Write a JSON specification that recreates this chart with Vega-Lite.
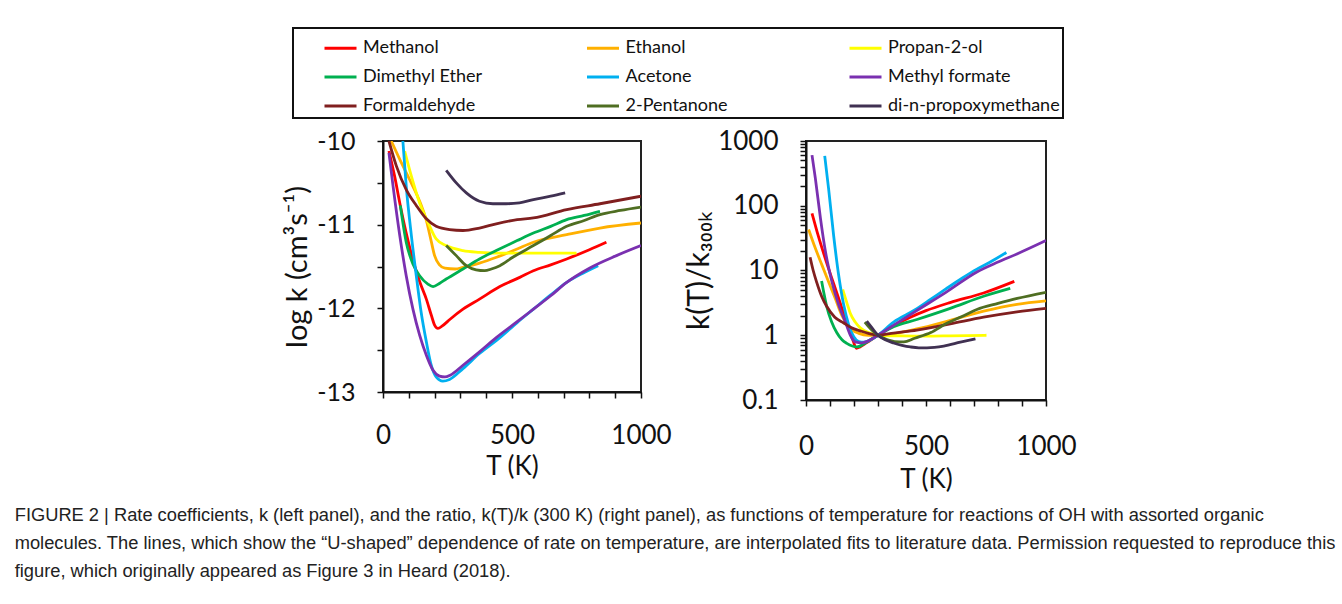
{
  "$schema": "https://vega.github.io/schema/vega-lite/v6.json",
  "padding": {"left": 14, "top": 27, "right": 0, "bottom": 4},
  "background": "white",
  "align": "none",
  "config": {
    "font": "Lato",
    "view": {"stroke": "#222", "strokeWidth": 2},
    "legend": {"strokeWidth": 2, "strokeColor": "#111"},
    "axis": {"grid": false, "domainColor": "#111", "domainWidth": 2, "tickColor": "#111", "tickWidth": 1.5, "labelColor": "#111", "titleColor": "#111", "labelFont": "Lato", "titleFont": "Lato", "titleFontWeight": "normal", "labelOverlap": false, "labelFlush": false}
  },
  "title": {
    "text": [
      "FIGURE 2 | Rate coefficients, k (left panel), and the ratio, k(T)/k (300 K) (right panel), as functions of temperature for reactions of OH with assorted organic",
      "molecules. The lines, which show the “U-shaped” dependence of rate on temperature, are interpolated fits to literature data. Permission requested to reproduce this",
      "figure, which originally appeared as Figure 3 in Heard (2018)."
    ],
    "orient": "bottom", "anchor": "start", "dx": -268, "offset": 14,
    "font": "Liberation Sans", "fontSize": 18.3, "fontWeight": "normal", "lineHeight": 28, "color": "#222"
  },
  "datasets": {
    "kdata": [
      {"species": "Methanol", "T": 23, "logk": -10.12}, {"species": "Methanol", "T": 45, "logk": -10.42}, {"species": "Methanol", "T": 65, "logk": -10.74}, {"species": "Methanol", "T": 90, "logk": -11.1}, {"species": "Methanol", "T": 116, "logk": -11.42}, {"species": "Methanol", "T": 142, "logk": -11.68}, {"species": "Methanol", "T": 168, "logk": -11.89}, {"species": "Methanol", "T": 187, "logk": -12.08}, {"species": "Methanol", "T": 200, "logk": -12.2}, {"species": "Methanol", "T": 213, "logk": -12.24}, {"species": "Methanol", "T": 230, "logk": -12.21}, {"species": "Methanol", "T": 260, "logk": -12.13}, {"species": "Methanol", "T": 310, "logk": -12.01}, {"species": "Methanol", "T": 374, "logk": -11.89}, {"species": "Methanol", "T": 453, "logk": -11.74}, {"species": "Methanol", "T": 530, "logk": -11.63}, {"species": "Methanol", "T": 583, "logk": -11.55}, {"species": "Methanol", "T": 650, "logk": -11.48}, {"species": "Methanol", "T": 712, "logk": -11.41}, {"species": "Methanol", "T": 800, "logk": -11.3}, {"species": "Methanol", "T": 866, "logk": -11.21},
      {"species": "Ethanol", "T": 32, "logk": -10.0}, {"species": "Ethanol", "T": 65, "logk": -10.22}, {"species": "Ethanol", "T": 103, "logk": -10.46}, {"species": "Ethanol", "T": 142, "logk": -10.72}, {"species": "Ethanol", "T": 168, "logk": -10.95}, {"species": "Ethanol", "T": 187, "logk": -11.2}, {"species": "Ethanol", "T": 200, "logk": -11.37}, {"species": "Ethanol", "T": 219, "logk": -11.48}, {"species": "Ethanol", "T": 240, "logk": -11.52}, {"species": "Ethanol", "T": 280, "logk": -11.53}, {"species": "Ethanol", "T": 310, "logk": -11.51}, {"species": "Ethanol", "T": 374, "logk": -11.46}, {"species": "Ethanol", "T": 440, "logk": -11.39}, {"species": "Ethanol", "T": 520, "logk": -11.29}, {"species": "Ethanol", "T": 583, "logk": -11.21}, {"species": "Ethanol", "T": 712, "logk": -11.12}, {"species": "Ethanol", "T": 841, "logk": -11.04}, {"species": "Ethanol", "T": 1000, "logk": -10.98},
      {"species": "Propan-2-ol", "T": 84, "logk": -10.12}, {"species": "Propan-2-ol", "T": 110, "logk": -10.42}, {"species": "Propan-2-ol", "T": 142, "logk": -10.74}, {"species": "Propan-2-ol", "T": 174, "logk": -10.97}, {"species": "Propan-2-ol", "T": 206, "logk": -11.17}, {"species": "Propan-2-ol", "T": 245, "logk": -11.25}, {"species": "Propan-2-ol", "T": 310, "logk": -11.31}, {"species": "Propan-2-ol", "T": 374, "logk": -11.33}, {"species": "Propan-2-ol", "T": 439, "logk": -11.34}, {"species": "Propan-2-ol", "T": 600, "logk": -11.34}, {"species": "Propan-2-ol", "T": 750, "logk": -11.34},
      {"species": "Dimethyl Ether", "T": 67, "logk": -10.77}, {"species": "Dimethyl Ether", "T": 90, "logk": -11.21}, {"species": "Dimethyl Ether", "T": 116, "logk": -11.47}, {"species": "Dimethyl Ether", "T": 142, "logk": -11.61}, {"species": "Dimethyl Ether", "T": 174, "logk": -11.71}, {"species": "Dimethyl Ether", "T": 194, "logk": -11.74}, {"species": "Dimethyl Ether", "T": 220, "logk": -11.7}, {"species": "Dimethyl Ether", "T": 245, "logk": -11.65}, {"species": "Dimethyl Ether", "T": 310, "logk": -11.53}, {"species": "Dimethyl Ether", "T": 374, "logk": -11.41}, {"species": "Dimethyl Ether", "T": 439, "logk": -11.31}, {"species": "Dimethyl Ether", "T": 520, "logk": -11.19}, {"species": "Dimethyl Ether", "T": 583, "logk": -11.1}, {"species": "Dimethyl Ether", "T": 650, "logk": -11.02}, {"species": "Dimethyl Ether", "T": 712, "logk": -10.94}, {"species": "Dimethyl Ether", "T": 780, "logk": -10.89}, {"species": "Dimethyl Ether", "T": 841, "logk": -10.84},
      {"species": "Acetone", "T": 77, "logk": -10.0}, {"species": "Acetone", "T": 90, "logk": -10.54}, {"species": "Acetone", "T": 110, "logk": -11.13}, {"species": "Acetone", "T": 129, "logk": -11.61}, {"species": "Acetone", "T": 148, "logk": -12.05}, {"species": "Acetone", "T": 168, "logk": -12.4}, {"species": "Acetone", "T": 187, "logk": -12.68}, {"species": "Acetone", "T": 206, "logk": -12.82}, {"species": "Acetone", "T": 232, "logk": -12.87}, {"species": "Acetone", "T": 258, "logk": -12.85}, {"species": "Acetone", "T": 310, "logk": -12.72}, {"species": "Acetone", "T": 374, "logk": -12.54}, {"species": "Acetone", "T": 453, "logk": -12.35}, {"species": "Acetone", "T": 520, "logk": -12.17}, {"species": "Acetone", "T": 583, "logk": -12.01}, {"species": "Acetone", "T": 650, "logk": -11.84}, {"species": "Acetone", "T": 712, "logk": -11.69}, {"species": "Acetone", "T": 775, "logk": -11.58}, {"species": "Acetone", "T": 834, "logk": -11.49},
      {"species": "Methyl formate", "T": 23, "logk": -10.14}, {"species": "Methyl formate", "T": 39, "logk": -10.54}, {"species": "Methyl formate", "T": 65, "logk": -11.13}, {"species": "Methyl formate", "T": 90, "logk": -11.61}, {"species": "Methyl formate", "T": 116, "logk": -12.01}, {"species": "Methyl formate", "T": 142, "logk": -12.32}, {"species": "Methyl formate", "T": 168, "logk": -12.56}, {"species": "Methyl formate", "T": 194, "logk": -12.74}, {"species": "Methyl formate", "T": 219, "logk": -12.81}, {"species": "Methyl formate", "T": 240, "logk": -12.82}, {"species": "Methyl formate", "T": 260, "logk": -12.8}, {"species": "Methyl formate", "T": 310, "logk": -12.68}, {"species": "Methyl formate", "T": 374, "logk": -12.52}, {"species": "Methyl formate", "T": 439, "logk": -12.35}, {"species": "Methyl formate", "T": 520, "logk": -12.16}, {"species": "Methyl formate", "T": 583, "logk": -12.01}, {"species": "Methyl formate", "T": 650, "logk": -11.85}, {"species": "Methyl formate", "T": 712, "logk": -11.69}, {"species": "Methyl formate", "T": 800, "logk": -11.52}, {"species": "Methyl formate", "T": 905, "logk": -11.37}, {"species": "Methyl formate", "T": 1000, "logk": -11.25},
      {"species": "Formaldehyde", "T": 23, "logk": -10.0}, {"species": "Formaldehyde", "T": 52, "logk": -10.3}, {"species": "Formaldehyde", "T": 90, "logk": -10.58}, {"species": "Formaldehyde", "T": 129, "logk": -10.77}, {"species": "Formaldehyde", "T": 168, "logk": -10.93}, {"species": "Formaldehyde", "T": 206, "logk": -11.02}, {"species": "Formaldehyde", "T": 258, "logk": -11.06}, {"species": "Formaldehyde", "T": 310, "logk": -11.07}, {"species": "Formaldehyde", "T": 374, "logk": -11.04}, {"species": "Formaldehyde", "T": 439, "logk": -10.99}, {"species": "Formaldehyde", "T": 520, "logk": -10.94}, {"species": "Formaldehyde", "T": 583, "logk": -10.92}, {"species": "Formaldehyde", "T": 712, "logk": -10.82}, {"species": "Formaldehyde", "T": 841, "logk": -10.75}, {"species": "Formaldehyde", "T": 1000, "logk": -10.66},
      {"species": "2-Pentanone", "T": 245, "logk": -11.25}, {"species": "2-Pentanone", "T": 284, "logk": -11.37}, {"species": "2-Pentanone", "T": 323, "logk": -11.49}, {"species": "2-Pentanone", "T": 361, "logk": -11.54}, {"species": "2-Pentanone", "T": 394, "logk": -11.55}, {"species": "2-Pentanone", "T": 420, "logk": -11.53}, {"species": "2-Pentanone", "T": 453, "logk": -11.49}, {"species": "2-Pentanone", "T": 503, "logk": -11.39}, {"species": "2-Pentanone", "T": 583, "logk": -11.25}, {"species": "2-Pentanone", "T": 650, "logk": -11.13}, {"species": "2-Pentanone", "T": 712, "logk": -11.02}, {"species": "2-Pentanone", "T": 780, "logk": -10.95}, {"species": "2-Pentanone", "T": 841, "logk": -10.88}, {"species": "2-Pentanone", "T": 920, "logk": -10.83}, {"species": "2-Pentanone", "T": 1000, "logk": -10.79},
      {"species": "di-n-propoxymethane", "T": 245, "logk": -10.35}, {"species": "di-n-propoxymethane", "T": 284, "logk": -10.5}, {"species": "di-n-propoxymethane", "T": 323, "logk": -10.62}, {"species": "di-n-propoxymethane", "T": 374, "logk": -10.72}, {"species": "di-n-propoxymethane", "T": 426, "logk": -10.75}, {"species": "di-n-propoxymethane", "T": 477, "logk": -10.75}, {"species": "di-n-propoxymethane", "T": 529, "logk": -10.74}, {"species": "di-n-propoxymethane", "T": 583, "logk": -10.7}, {"species": "di-n-propoxymethane", "T": 650, "logk": -10.66}, {"species": "di-n-propoxymethane", "T": 706, "logk": -10.62}
    ],
    "rdata": [
      {"species": "Methanol", "T": 25, "r": 76}, {"species": "Methanol", "T": 46, "r": 40}, {"species": "Methanol", "T": 67, "r": 22}, {"species": "Methanol", "T": 94, "r": 10.7}, {"species": "Methanol", "T": 122, "r": 5.3}, {"species": "Methanol", "T": 150, "r": 2.6}, {"species": "Methanol", "T": 178, "r": 1.3}, {"species": "Methanol", "T": 195, "r": 0.85}, {"species": "Methanol", "T": 210, "r": 0.63}, {"species": "Methanol", "T": 225, "r": 0.66}, {"species": "Methanol", "T": 253, "r": 0.77}, {"species": "Methanol", "T": 300, "r": 1.0}, {"species": "Methanol", "T": 365, "r": 1.4}, {"species": "Methanol", "T": 435, "r": 1.9}, {"species": "Methanol", "T": 500, "r": 2.4}, {"species": "Methanol", "T": 600, "r": 3.2}, {"species": "Methanol", "T": 740, "r": 4.5}, {"species": "Methanol", "T": 868, "r": 6.8},
      {"species": "Ethanol", "T": 11, "r": 43}, {"species": "Ethanol", "T": 39, "r": 22}, {"species": "Ethanol", "T": 67, "r": 12}, {"species": "Ethanol", "T": 94, "r": 6.7}, {"species": "Ethanol", "T": 122, "r": 3.7}, {"species": "Ethanol", "T": 150, "r": 2.0}, {"species": "Ethanol", "T": 178, "r": 1.35}, {"species": "Ethanol", "T": 220, "r": 1.07}, {"species": "Ethanol", "T": 260, "r": 1.0}, {"species": "Ethanol", "T": 300, "r": 1.0}, {"species": "Ethanol", "T": 374, "r": 1.07}, {"species": "Ethanol", "T": 462, "r": 1.25}, {"species": "Ethanol", "T": 601, "r": 1.7}, {"species": "Ethanol", "T": 740, "r": 2.35}, {"species": "Ethanol", "T": 879, "r": 3.0}, {"species": "Ethanol", "T": 1000, "r": 3.4},
      {"species": "Propan-2-ol", "T": 153, "r": 5.1}, {"species": "Propan-2-ol", "T": 170, "r": 3.2}, {"species": "Propan-2-ol", "T": 184, "r": 2.2}, {"species": "Propan-2-ol", "T": 205, "r": 1.6}, {"species": "Propan-2-ol", "T": 226, "r": 1.3}, {"species": "Propan-2-ol", "T": 260, "r": 1.1}, {"species": "Propan-2-ol", "T": 300, "r": 1.0}, {"species": "Propan-2-ol", "T": 400, "r": 0.98}, {"species": "Propan-2-ol", "T": 500, "r": 0.97}, {"species": "Propan-2-ol", "T": 600, "r": 0.98}, {"species": "Propan-2-ol", "T": 752, "r": 1.0},
      {"species": "Dimethyl Ether", "T": 65, "r": 6.9}, {"species": "Dimethyl Ether", "T": 76, "r": 4.2}, {"species": "Dimethyl Ether", "T": 86, "r": 2.8}, {"species": "Dimethyl Ether", "T": 107, "r": 1.6}, {"species": "Dimethyl Ether", "T": 128, "r": 1.1}, {"species": "Dimethyl Ether", "T": 150, "r": 0.85}, {"species": "Dimethyl Ether", "T": 170, "r": 0.75}, {"species": "Dimethyl Ether", "T": 212, "r": 0.66}, {"species": "Dimethyl Ether", "T": 240, "r": 0.73}, {"species": "Dimethyl Ether", "T": 270, "r": 0.86}, {"species": "Dimethyl Ether", "T": 300, "r": 1.0}, {"species": "Dimethyl Ether", "T": 365, "r": 1.35}, {"species": "Dimethyl Ether", "T": 462, "r": 1.75}, {"species": "Dimethyl Ether", "T": 601, "r": 2.6}, {"species": "Dimethyl Ether", "T": 740, "r": 4.0}, {"species": "Dimethyl Ether", "T": 851, "r": 5.3},
      {"species": "Acetone", "T": 78, "r": 590}, {"species": "Acetone", "T": 94, "r": 186}, {"species": "Acetone", "T": 115, "r": 35}, {"species": "Acetone", "T": 136, "r": 8.5}, {"species": "Acetone", "T": 157, "r": 2.95}, {"species": "Acetone", "T": 178, "r": 1.45}, {"species": "Acetone", "T": 199, "r": 0.95}, {"species": "Acetone", "T": 220, "r": 0.8}, {"species": "Acetone", "T": 240, "r": 0.78}, {"species": "Acetone", "T": 270, "r": 0.85}, {"species": "Acetone", "T": 300, "r": 1.0}, {"species": "Acetone", "T": 365, "r": 1.6}, {"species": "Acetone", "T": 453, "r": 2.45}, {"species": "Acetone", "T": 520, "r": 3.6}, {"species": "Acetone", "T": 583, "r": 5.2}, {"species": "Acetone", "T": 650, "r": 7.6}, {"species": "Acetone", "T": 712, "r": 10.5}, {"species": "Acetone", "T": 775, "r": 14}, {"species": "Acetone", "T": 835, "r": 19},
      {"species": "Methyl formate", "T": 25, "r": 605}, {"species": "Methyl formate", "T": 39, "r": 265}, {"species": "Methyl formate", "T": 60, "r": 65}, {"species": "Methyl formate", "T": 81, "r": 19.6}, {"species": "Methyl formate", "T": 108, "r": 6.7}, {"species": "Methyl formate", "T": 136, "r": 2.95}, {"species": "Methyl formate", "T": 164, "r": 1.6}, {"species": "Methyl formate", "T": 185, "r": 1.0}, {"species": "Methyl formate", "T": 205, "r": 0.79}, {"species": "Methyl formate", "T": 233, "r": 0.76}, {"species": "Methyl formate", "T": 260, "r": 0.82}, {"species": "Methyl formate", "T": 300, "r": 1.0}, {"species": "Methyl formate", "T": 374, "r": 1.5}, {"species": "Methyl formate", "T": 453, "r": 2.3}, {"species": "Methyl formate", "T": 583, "r": 4.6}, {"species": "Methyl formate", "T": 712, "r": 9.5}, {"species": "Methyl formate", "T": 800, "r": 13.5}, {"species": "Methyl formate", "T": 879, "r": 18}, {"species": "Methyl formate", "T": 1000, "r": 29},
      {"species": "Formaldehyde", "T": 17, "r": 16}, {"species": "Formaldehyde", "T": 30, "r": 10}, {"species": "Formaldehyde", "T": 45, "r": 6.5}, {"species": "Formaldehyde", "T": 65, "r": 4.0}, {"species": "Formaldehyde", "T": 86, "r": 2.8}, {"species": "Formaldehyde", "T": 120, "r": 1.9}, {"species": "Formaldehyde", "T": 156, "r": 1.56}, {"species": "Formaldehyde", "T": 190, "r": 1.3}, {"species": "Formaldehyde", "T": 226, "r": 1.17}, {"species": "Formaldehyde", "T": 260, "r": 1.07}, {"species": "Formaldehyde", "T": 300, "r": 1.0}, {"species": "Formaldehyde", "T": 365, "r": 1.08}, {"species": "Formaldehyde", "T": 462, "r": 1.2}, {"species": "Formaldehyde", "T": 601, "r": 1.5}, {"species": "Formaldehyde", "T": 740, "r": 1.9}, {"species": "Formaldehyde", "T": 879, "r": 2.3}, {"species": "Formaldehyde", "T": 1000, "r": 2.6},
      {"species": "2-Pentanone", "T": 245, "r": 1.6}, {"species": "2-Pentanone", "T": 270, "r": 1.25}, {"species": "2-Pentanone", "T": 300, "r": 1.0}, {"species": "2-Pentanone", "T": 340, "r": 0.85}, {"species": "2-Pentanone", "T": 370, "r": 0.8}, {"species": "2-Pentanone", "T": 407, "r": 0.79}, {"species": "2-Pentanone", "T": 453, "r": 0.9}, {"species": "2-Pentanone", "T": 520, "r": 1.1}, {"species": "2-Pentanone", "T": 583, "r": 1.5}, {"species": "2-Pentanone", "T": 650, "r": 1.95}, {"species": "2-Pentanone", "T": 712, "r": 2.5}, {"species": "2-Pentanone", "T": 800, "r": 3.1}, {"species": "2-Pentanone", "T": 880, "r": 3.7}, {"species": "2-Pentanone", "T": 1000, "r": 4.6},
      {"species": "di-n-propoxymethane", "T": 253, "r": 1.65}, {"species": "di-n-propoxymethane", "T": 275, "r": 1.3}, {"species": "di-n-propoxymethane", "T": 300, "r": 1.0}, {"species": "di-n-propoxymethane", "T": 330, "r": 0.85}, {"species": "di-n-propoxymethane", "T": 365, "r": 0.76}, {"species": "di-n-propoxymethane", "T": 400, "r": 0.7}, {"species": "di-n-propoxymethane", "T": 435, "r": 0.66}, {"species": "di-n-propoxymethane", "T": 470, "r": 0.64}, {"species": "di-n-propoxymethane", "T": 504, "r": 0.64}, {"species": "di-n-propoxymethane", "T": 574, "r": 0.68}, {"species": "di-n-propoxymethane", "T": 643, "r": 0.78}, {"species": "di-n-propoxymethane", "T": 706, "r": 0.88}
    ]
  },
  "spacing": 10,
  "hconcat": [
    {
      "width": 258, "height": 251,
      "data": {"name": "kdata"},
      "mark": {"type": "line", "strokeWidth": 2.8, "clip": true, "interpolate": "monotone"},
      "encoding": {
        "x": {"field": "T", "type": "quantitative", "scale": {"domain": [0, 1000], "nice": false},
              "axis": {"values": [0, 100, 200, 300, 400, 500, 600, 700, 800, 900, 1000], "labelExpr": "datum.value % 500 == 0 ? '' + datum.value : ''", "labelFontSize": 26, "tickSize": 6, "labelPadding": 24, "title": "T (K)", "titleFontSize": 26, "titlePadding": 5}},
        "y": {"field": "logk", "type": "quantitative", "scale": {"domain": [-13, -10], "nice": false, "zero": false},
              "axis": {"values": [-13, -12.5, -12, -11.5, -11, -10.5, -10], "labelExpr": "datum.value % 1 == 0 ? '' + datum.value : ''", "labelFontSize": 25, "tickSize": 6, "labelPadding": 22, "title": "log k (cm³s⁻¹)", "titleFontSize": 29, "titlePadding": 4}},
        "color": {"field": "species", "type": "nominal",
                  "scale": {"domain": ["Methanol", "Ethanol", "Propan-2-ol", "Dimethyl Ether", "Acetone", "Methyl formate", "Formaldehyde", "2-Pentanone", "di-n-propoxymethane"],
                            "range": ["#FF0000", "#FFB000", "#FFFF00", "#00B050", "#00B0F0", "#7A30B0", "#801F1F", "#4F6E22", "#403152"]},
                  "legend": {"orient": "none", "legendX": -90, "legendY": -113, "direction": "horizontal", "columns": 3, "gridAlign": "all", "title": null,
                             "symbolType": "stroke", "symbolSize": 1024, "symbolStrokeWidth": 3, "symbolOffset": 27.5, "labelOffset": 5,
                             "labelFont": "Lato", "labelFontSize": 18, "labelColor": "#111", "labelLimit": 400, "columnPadding": 22.5, "rowPadding": 2, "padding": 2.5,
                             "strokeColor": "#111"}}
      }
    },
    {
      "width": 240, "height": 259,
      "data": {"name": "rdata"},
      "mark": {"type": "line", "strokeWidth": 2.8, "clip": true, "interpolate": "monotone"},
      "encoding": {
        "x": {"field": "T", "type": "quantitative", "scale": {"domain": [0, 1000], "nice": false},
              "axis": {"values": [0, 100, 200, 300, 400, 500, 600, 700, 800, 900, 1000], "labelExpr": "datum.value % 500 == 0 ? '' + datum.value : ''", "labelFontSize": 26, "tickSize": 6, "labelPadding": 27, "title": "T (K)", "titleFontSize": 26, "titlePadding": 7}},
        "y": {"field": "r", "type": "quantitative", "scale": {"type": "log", "domain": [0.1, 1000], "nice": false},
              "axis": {"values": [0.1, 0.2, 0.3, 0.4, 0.5, 0.6, 0.7, 0.8, 0.9, 1, 2, 3, 4, 5, 6, 7, 8, 9, 10, 20, 30, 40, 50, 60, 70, 80, 90, 100, 200, 300, 400, 500, 600, 700, 800, 900, 1000],
                       "labelExpr": "indexof([0.1, 1, 10, 100, 1000], datum.value) >= 0 ? '' + datum.value : ''", "labelFontSize": 26, "tickSize": 6, "labelPadding": 22, "title": "k(T)/k₃₀₀ₖ", "titleFontSize": 30, "titlePadding": 3}},
        "color": {"field": "species", "type": "nominal",
                  "scale": {"domain": ["Methanol", "Ethanol", "Propan-2-ol", "Dimethyl Ether", "Acetone", "Methyl formate", "Formaldehyde", "2-Pentanone", "di-n-propoxymethane"],
                            "range": ["#FF0000", "#FFB000", "#FFFF00", "#00B050", "#00B0F0", "#7A30B0", "#801F1F", "#4F6E22", "#403152"]},
                  "legend": {"orient": "none", "legendX": -90, "legendY": -113, "direction": "horizontal", "columns": 3, "gridAlign": "all", "title": null,
                             "symbolType": "stroke", "symbolSize": 1024, "symbolStrokeWidth": 3, "symbolOffset": 27.5, "labelOffset": 5,
                             "labelFont": "Lato", "labelFontSize": 18, "labelColor": "#111", "labelLimit": 400, "columnPadding": 22.5, "rowPadding": 2, "padding": 2.5,
                             "strokeColor": "#111"}}
      }
    }
  ]
}
